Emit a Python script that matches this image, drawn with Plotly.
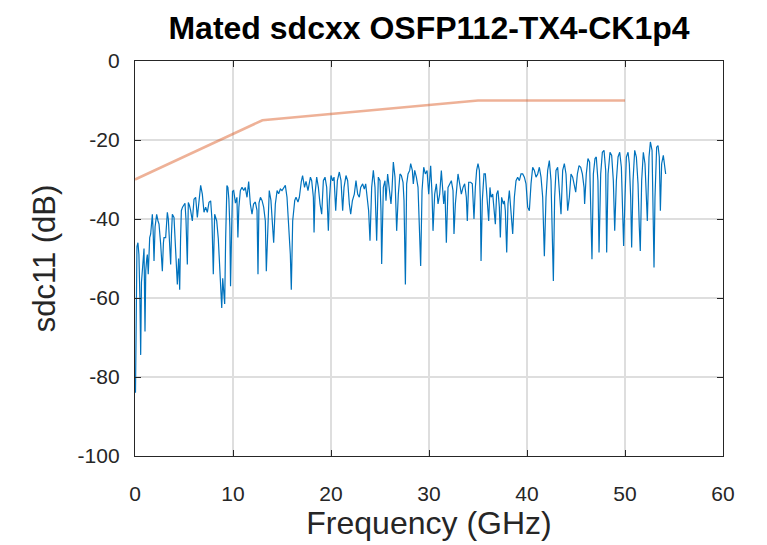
import plotly.graph_objects as go

# Measured trace (Frequency GHz, sdc11 dB)
freq_ghz = [
    0.05, 0.12, 0.2, 0.3, 0.4, 0.5, 0.58, 0.66, 0.75, 0.85, 0.92, 1.02, 1.1, 1.2, 1.26, 1.35, 1.5, 1.6, 1.7, 1.77,
    1.85, 1.94, 2.05, 2.21, 2.35, 2.45, 2.62, 2.79, 2.9, 2.96, 3.13, 3.3, 3.4, 3.47, 3.64, 3.72, 3.81, 3.98, 4.15, 4.32,
    4.45, 4.56, 4.65, 4.73, 4.85, 5.0, 5.1, 5.2, 5.34, 5.44, 5.55, 5.68, 5.78, 5.85, 6.02, 6.19, 6.36, 6.53, 6.7, 6.87,
    7.04, 7.21, 7.38, 7.55, 7.72, 7.85, 7.99, 8.13, 8.34, 8.5, 8.62, 8.74, 8.85, 8.95, 9.05, 9.15, 9.25, 9.38, 9.48, 9.58,
    9.68, 9.75, 9.85, 9.95,
    10.07, 10.25, 10.4, 10.5, 10.6, 10.75, 10.92, 11.1, 11.25, 11.43, 11.6, 11.77, 11.94, 12.1, 12.28, 12.45, 12.55, 12.65,
    12.8, 12.96, 13.13, 13.3, 13.4, 13.54, 13.7, 13.87, 13.98, 14.15, 14.32, 14.5, 14.66, 14.83, 15.0, 15.17, 15.34, 15.51,
    15.68, 15.85, 15.95, 16.09, 16.3, 16.43, 16.63, 16.77, 16.97, 17.1, 17.3, 17.45, 17.65, 17.9,
    18.03, 18.2, 18.27, 18.37, 18.54, 18.71, 18.88, 19.05, 19.22, 19.39, 19.56, 19.73, 19.83, 20.0, 20.17, 20.31, 20.48,
    20.65, 20.85, 21.02, 21.19, 21.33, 21.53, 21.7, 21.87, 22.01, 22.18, 22.38, 22.55, 22.72, 22.89, 23.03, 23.23, 23.4,
    23.54, 23.71, 23.84, 23.98, 24.15, 24.32, 24.49, 24.66, 24.83, 25.0, 25.1, 25.17, 25.34, 25.51, 25.61, 25.78, 25.95,
    26.12, 26.22, 26.36, 26.53, 26.7, 26.87, 27.04,
    27.18, 27.35, 27.45, 27.59, 27.72, 27.86, 28.03, 28.13, 28.3, 28.4, 28.54, 28.71, 28.88, 29.01, 29.15, 29.29, 29.46,
    29.63, 29.8, 29.97, 30.07, 30.17, 30.31, 30.41, 30.58, 30.75, 30.92, 31.09, 31.26, 31.36, 31.5, 31.63, 31.77, 31.94,
    32.11, 32.28, 32.45, 32.55, 32.69, 32.79, 32.96, 33.13, 33.3, 33.47, 33.64, 33.81, 33.91, 34.05, 34.25, 34.42, 34.59,
    34.73, 34.86, 35.0, 35.14, 35.24, 35.31, 35.44, 35.61, 35.75, 35.95,
    36.09, 36.22, 36.33, 36.5, 36.67, 36.77, 36.9, 37.04, 37.18, 37.28, 37.41, 37.59, 37.69, 37.79, 37.93, 38.06, 38.2,
    38.37, 38.54, 38.71, 38.88, 39.05, 39.22, 39.39, 39.56, 39.73, 39.9, 40.07, 40.24, 40.41, 40.58, 40.75, 40.92, 41.09,
    41.26, 41.43, 41.6, 41.77, 41.94, 42.11, 42.28, 42.45, 42.55, 42.69, 42.82, 42.96, 43.13, 43.3, 43.47, 43.64, 43.81,
    43.98, 44.15, 44.32, 44.49, 44.66, 44.83,
    44.97, 45.14, 45.31, 45.48, 45.65, 45.82, 45.88, 46.05, 46.22, 46.39, 46.5, 46.63, 46.77, 46.94, 47.07, 47.24, 47.35,
    47.52, 47.69, 47.86, 48.03, 48.13, 48.27, 48.47, 48.64, 48.81, 48.95, 49.12, 49.29, 49.46, 49.63, 49.76, 49.86, 50.0,
    50.14, 50.31, 50.44, 50.58, 50.68, 50.82, 50.99, 51.16, 51.33, 51.46, 51.56, 51.7, 51.87, 52.04, 52.18, 52.28, 52.45,
    52.59, 52.76, 52.86, 52.96, 53.06, 53.23, 53.37, 53.5, 53.61, 53.74, 53.91, 54.05, 54.15,
]
sdc11_db = [
    -84, -62, -47, -46, -49, -60, -74.4, -56, -53, -48, -47.5, -68.5, -53, -50, -49, -54, -44.7, -43.8, -40, -38.8,
    -43, -50.6, -42, -38.8, -40.5, -41.3, -46.4, -53.2, -46, -44.7, -44.7, -38.3, -40, -43, -51.5, -44, -38.8, -39.6, -47.3, -56.6,
    -50, -57.9, -45, -37.9, -37, -36.2, -36, -40, -51.5, -35.8, -36.5, -37.9, -40, -40.5, -35, -34.5, -39.6, -36.2, -31.5, -33.7,
    -38.3, -37, -38.3, -35.8, -35.4, -40, -54, -38.8, -40.5, -45, -52, -57.4, -62.5, -55, -58, -61.5, -45, -31.5, -32, -35,
    -42, -57, -44, -33,
    -32.8, -36, -34.5, -44.7, -37, -32.8, -32, -32.8, -32, -34.5, -30.5, -36.2, -38.8, -36.2, -35.7, -37.8, -54, -36,
    -34.5, -35.3, -37, -40.5, -53.2, -40.5, -32.8, -35.3, -40.5, -46, -36.2, -32.8, -33.6, -32.4, -32.8, -32, -31.5, -34.5,
    -40.5, -49, -57.9, -40.5, -35.3, -34.5, -35.7, -34.5, -30.5, -29, -32, -30.5, -32.8, -29.4,
    -30.3, -34.5, -43.4, -33.7, -29.4, -32, -36.2, -38.8, -30.3, -29.4, -32, -43, -35.4, -29, -30.3, -29.4, -37.9,
    -30.3, -28.1, -30.3, -37.9, -32, -29, -30.3, -36.2, -38.8, -35.4, -33.7, -30.3, -33.7, -34.5, -32, -31.1, -32.4,
    -31.1, -34.5, -37.9, -45.5, -32, -27.7, -32, -45.5, -29.4, -30.3, -37.9, -51.4, -32, -30.3, -35.4, -28.6, -32,
    -36.2, -32.8, -25.6, -29.4, -43, -33.7, -28.6,
    -29, -30.7, -35.4, -56.6, -31.1, -28.6, -27.7, -26, -27.7, -31.1, -27.7, -29.4, -32, -39.6, -51.9, -32.8, -26.9,
    -28.6, -27.7, -33.7, -29.4, -26.5, -33.7, -43, -33.7, -31.1, -36.2, -33.7, -27.7, -32, -36.2, -32.8, -46, -32,
    -31.1, -30.3, -32.8, -43.8, -36.2, -33.7, -28.6, -31.1, -33.7, -32, -31.1, -34.5, -40.5, -30.7, -30.7, -31.1, -40,
    -32, -27.7, -26, -27.7, -35.4, -50.6, -35.4, -28.6, -28.6, -36.2,
    -40.5, -32, -34.5, -33.7, -39.6, -41.3, -33.7, -32.8, -37, -44.7, -34.5, -36.2, -35.4, -37.9, -48.5, -36.2, -32.8,
    -37.9, -43.8, -34.5, -30.3, -29.4, -30.3, -28.6, -28.6, -29.4, -31.1, -37, -37.9, -31.1, -26.9, -27.7, -29.4, -28.6,
    -26.9, -29.4, -34.5, -49.4, -34.5, -27.7, -25.2, -30.3, -43, -55.7, -34.5, -27.7, -26.9, -34.5, -38.8, -27.7, -26,
    -28.6, -37.9, -34.5, -28.6, -29.4, -31.1,
    -33.2, -28.6, -26.5, -26.9, -28.6, -32, -36.2, -28.6, -24.7, -25.6, -34.5, -50.2, -28.6, -24.7, -24.3, -30.3, -48.5,
    -28.6, -23.1, -22.6, -27.7, -48.5, -28.6, -23.1, -23.9, -30.3, -43, -30.3, -24.3, -23.1, -26.9, -38.8, -46.8, -34.5,
    -24.3, -23.1, -26, -34.5, -47.2, -30.3, -22.6, -24.3, -31.1, -42.1, -48.1, -30.3, -23.1, -26, -32.8, -40.5, -24.3,
    -20.5, -22.6, -34.5, -52.3, -34.5, -21.8, -21.4, -24.3, -37.9, -26, -23.9, -26.9, -28.6,
]

# Limit line
limit_freq = [0, 13, 35, 50]
limit_db = [-30, -15, -10, -10]

x_ticks = [0, 10, 20, 30, 40, 50, 60]
y_ticks = [-100, -80, -60, -40, -20, 0]

font_family = "Liberation Sans, Arial, Helvetica, sans-serif"

fig = go.Figure()
fig.add_trace(go.Scatter(
    x=freq_ghz, y=sdc11_db, mode="lines",
    line=dict(color="#0072BD", width=1.2),
    showlegend=False, hoverinfo="skip",
))
fig.add_trace(go.Scatter(
    x=limit_freq, y=limit_db, mode="lines",
    line=dict(color="rgba(217,83,25,0.45)", width=2.6),
    showlegend=False, hoverinfo="skip",
))

axis_common = dict(
    showline=True, linecolor="#262626", linewidth=1.3, mirror="ticks",
    ticks="inside", ticklen=6, tickwidth=1.3, tickcolor="#262626",
    showgrid=True, gridcolor="#dedede", gridwidth=1.5,
    zeroline=False,
    tickfont=dict(family=font_family, size=21, color="#262626"),
)

fig.update_layout(
    width=759, height=537,
    paper_bgcolor="white", plot_bgcolor="white",
    margin=dict(l=127, r=44, t=53, b=89),
    title=dict(
        text="<b>Mated sdcxx OSFP112-TX4-CK1p4</b>",
        x=0.5, xref="paper", xanchor="center",
        y=0.964, yref="container", yanchor="middle",
        font=dict(family=font_family, size=32, color="black"),
    ),
    xaxis=dict(
        range=[0, 60], tickvals=x_ticks, ticktext=[str(v) for v in x_ticks],
        title=dict(text="Frequency (GHz)", font=dict(family=font_family, size=32, color="#262626"), standoff=3),
        ticklabelstandoff=19,
        **axis_common,
    ),
    yaxis=dict(
        range=[-100, 0], tickvals=y_ticks, ticktext=[str(v) for v in y_ticks],
        title=dict(text="sdc11 (dB)", font=dict(family=font_family, size=31, color="#262626"), standoff=12),
        ticklabelstandoff=10,
        **axis_common,
    ),
)

fig.write_html("out.html")
